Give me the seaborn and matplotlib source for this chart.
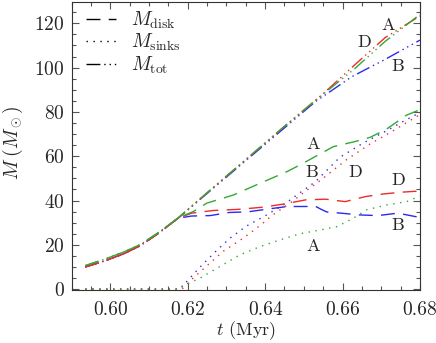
"""Disk, sink and total mass versus time for runs A, B and D."""
import numpy as np
import pandas as pd
import matplotlib
matplotlib.use('Agg')
import matplotlib.pyplot as plt
import seaborn as sns
from matplotlib.lines import Line2D
from matplotlib.ticker import MultipleLocator, FormatStrFormatter

# --- data (t in Myr, M in Msun) ---
t_tot_A = [0.5935, 0.5985, 0.6035, 0.6077, 0.6125, 0.6175, 0.625, 0.635, 0.645, 0.655, 0.6632, 0.671, 0.68]
m_tot_A = [10.6, 13.5, 16.8, 20.1, 25.6, 32.2, 43.5, 58.5, 73.5, 88.0, 99.6, 111.8, 124.0]
t_tot_B = [0.5935, 0.5985, 0.6035, 0.6077, 0.6125, 0.6175, 0.625, 0.635, 0.645, 0.6529, 0.6624, 0.671, 0.68]
m_tot_B = [10.0, 12.7, 16.0, 19.6, 25.3, 32.0, 43.2, 58.0, 72.8, 84.5, 95.9, 103.7, 112.4]
t_tot_D = [0.5935, 0.5985, 0.6035, 0.6077, 0.6125, 0.6175, 0.625, 0.635, 0.645, 0.655, 0.6632, 0.671, 0.68]
m_tot_D = [10.0, 12.7, 16.0, 19.6, 25.3, 32.0, 43.5, 58.5, 73.5, 88.2, 101.3, 113.5, 123.3]

t_disk_A = [0.5935, 0.5985, 0.6035, 0.6077, 0.6125, 0.6175, 0.6214, 0.6249, 0.6318, 0.6387, 0.6456, 0.6498,
            0.6529, 0.6576, 0.6632, 0.6671, 0.6712, 0.6765, 0.68]
m_disk_A = [10.6, 13.5, 16.8, 20.1, 25.6, 32.2, 35.0, 38.8, 42.5, 47.8, 53.0, 56.8,
            59.8, 64.3, 66.6, 68.5, 72.0, 78.5, 81.0]
t_disk_B = [0.5935, 0.5985, 0.6035, 0.6077, 0.6125, 0.6175, 0.621, 0.6258, 0.6307, 0.6356, 0.6405, 0.6457,
            0.65, 0.653, 0.6545, 0.656, 0.6596, 0.6643, 0.6692, 0.6743, 0.679, 0.68]
m_disk_B = [10.0, 12.7, 16.0, 19.6, 25.3, 32.0, 33.0, 33.2, 34.6, 34.9, 36.1, 37.3,
            37.3, 37.4, 36.0, 34.8, 34.3, 33.5, 33.2, 34.3, 32.7, 32.5]
t_disk_D = [0.5935, 0.5985, 0.6035, 0.6077, 0.6125, 0.6175, 0.621, 0.6266, 0.633, 0.6395, 0.6451, 0.6505,
            0.6557, 0.6607, 0.666, 0.6707, 0.6756, 0.68]
m_disk_D = [10.0, 12.7, 16.0, 19.6, 25.3, 32.0, 34.3, 35.5, 36.0, 37.0, 38.5, 40.3,
            40.6, 39.5, 41.8, 43.0, 43.8, 44.3]

t_sink_A = [0.5935, 0.6175, 0.6184, 0.6232, 0.6283, 0.6335, 0.6387, 0.6438, 0.649, 0.6542, 0.6585, 0.6628,
            0.6662, 0.6714, 0.6766, 0.68]
m_sink_A = [0.0, 0.0, 1.2, 5.0, 10.2, 15.5, 19.2, 22.2, 25.0, 26.7, 28.2, 32.0,
            35.8, 38.0, 39.5, 42.0]
t_sink_B = [0.5935, 0.618, 0.6195, 0.6232, 0.6275, 0.6309, 0.6352, 0.6404, 0.6447, 0.6486, 0.653, 0.6593,
            0.6654, 0.6714, 0.676, 0.68]
m_sink_B = [0.0, 0.0, 3.0, 10.0, 17.5, 23.0, 28.5, 33.5, 38.0, 43.0, 48.5, 59.5,
            66.0, 71.5, 76.0, 79.7]
t_sink_D = [0.5935, 0.6185, 0.6214, 0.6257, 0.6291, 0.6343, 0.6378, 0.642, 0.6464, 0.6498, 0.6542, 0.6611,
            0.6671, 0.6731, 0.68]
m_sink_D = [0.0, 0.0, 5.0, 11.7, 17.0, 23.0, 27.5, 33.5, 38.8, 43.3, 49.0, 58.5,
            65.5, 71.5, 78.8]

run_colors = {'A': '#33a833', 'B': '#2a2aee', 'D': '#ee2a2a'}
kind_dashes = {'disk': (10, 6), 'sinks': (1, 4), 'tot': (10, 2.8, 1, 2.8, 1, 2.8, 1, 2.8)}

# run labels: (run, t, M)
label_runs = ['A', 'D', 'B', 'A', 'B', 'D', 'D', 'B', 'A']
label_t = [0.6717, 0.6656, 0.6744, 0.6524, 0.6521, 0.6632, 0.6743, 0.6743, 0.6524]
label_m = [119.2, 111.2, 100.4, 65.5, 52.9, 52.9, 49.3, 28.6, 19.2]


def build_frame():
    parts = []
    series = {
        ('A', 'tot'): (t_tot_A, m_tot_A), ('B', 'tot'): (t_tot_B, m_tot_B), ('D', 'tot'): (t_tot_D, m_tot_D),
        ('A', 'disk'): (t_disk_A, m_disk_A), ('B', 'disk'): (t_disk_B, m_disk_B), ('D', 'disk'): (t_disk_D, m_disk_D),
        ('A', 'sinks'): (t_sink_A, m_sink_A), ('B', 'sinks'): (t_sink_B, m_sink_B), ('D', 'sinks'): (t_sink_D, m_sink_D),
    }
    for (run, kind), (t, m) in series.items():
        parts.append(pd.DataFrame({'t': t, 'M': m, 'run': run, 'kind': kind}))
    return pd.concat(parts, ignore_index=True)


sns.set_style('ticks')
plt.rcParams['font.family'] = ['cmr10', 'DejaVu Serif']
plt.rcParams['mathtext.fontset'] = 'cm'
plt.rcParams['axes.formatter.use_mathtext'] = True
plt.rcParams['axes.unicode_minus'] = False

df = build_frame()

fig = plt.figure(figsize=(4.36, 3.43), dpi=100)
ax = fig.add_axes([0.1645, 0.1545, 0.7985, 0.8395])

sns.lineplot(data=df, x='t', y='M', hue='run', style='kind', hue_order=['B', 'D', 'A'],
             style_order=['disk', 'sinks', 'tot'], palette=run_colors, dashes=kind_dashes,
             estimator=None, sort=True, linewidth=1.0, legend=False, ax=ax)

for run, t, m in zip(label_runs, label_t, label_m):
    ax.text(t, m, run, ha='center', va='center', fontsize=13)

ax.set_xlim(0.59, 0.68)
ax.set_ylim(-0.4, 129.6)
ax.xaxis.set_major_locator(MultipleLocator(0.02))
ax.xaxis.set_minor_locator(MultipleLocator(0.005))
ax.xaxis.set_major_formatter(FormatStrFormatter('%.2f'))
ax.yaxis.set_major_locator(MultipleLocator(20))
ax.yaxis.set_minor_locator(MultipleLocator(5))
ax.tick_params(which='both', direction='in', top=True, right=True, color='#555555', width=0.8)
ax.tick_params(which='major', length=5, labelsize=14)
ax.tick_params(axis='x', which='major', pad=8)
ax.tick_params(axis='y', which='major', pad=5)
ax.tick_params(which='minor', length=3)
for sp in ax.spines.values():
    sp.set_color('#333333')
    sp.set_linewidth(0.8)

ax.set_xlabel(r'$t$ (Myr)', fontsize=13)
ax.set_ylabel(r'$M\;(M_\odot)$', fontsize=14)
ax.xaxis.set_label_coords(0.5, -0.1)
ax.yaxis.set_label_coords(-0.133, 0.51)

handles = [Line2D([], [], color='black', lw=1.0, dashes=kind_dashes[k]) for k in ['disk', 'sinks', 'tot']]
labels = [r'$M_{\rm disk}$', r'$M_{\rm sinks}$', r'$M_{\rm tot}$']
ax.legend(handles, labels, loc='upper left', bbox_to_anchor=(0.02, 1.0), frameon=False, fontsize=14,
          handlelength=1.5, handletextpad=0.8, labelspacing=0.05, borderaxespad=0.0)

fig.savefig('out.png', dpi=100)
plt.close(fig)
